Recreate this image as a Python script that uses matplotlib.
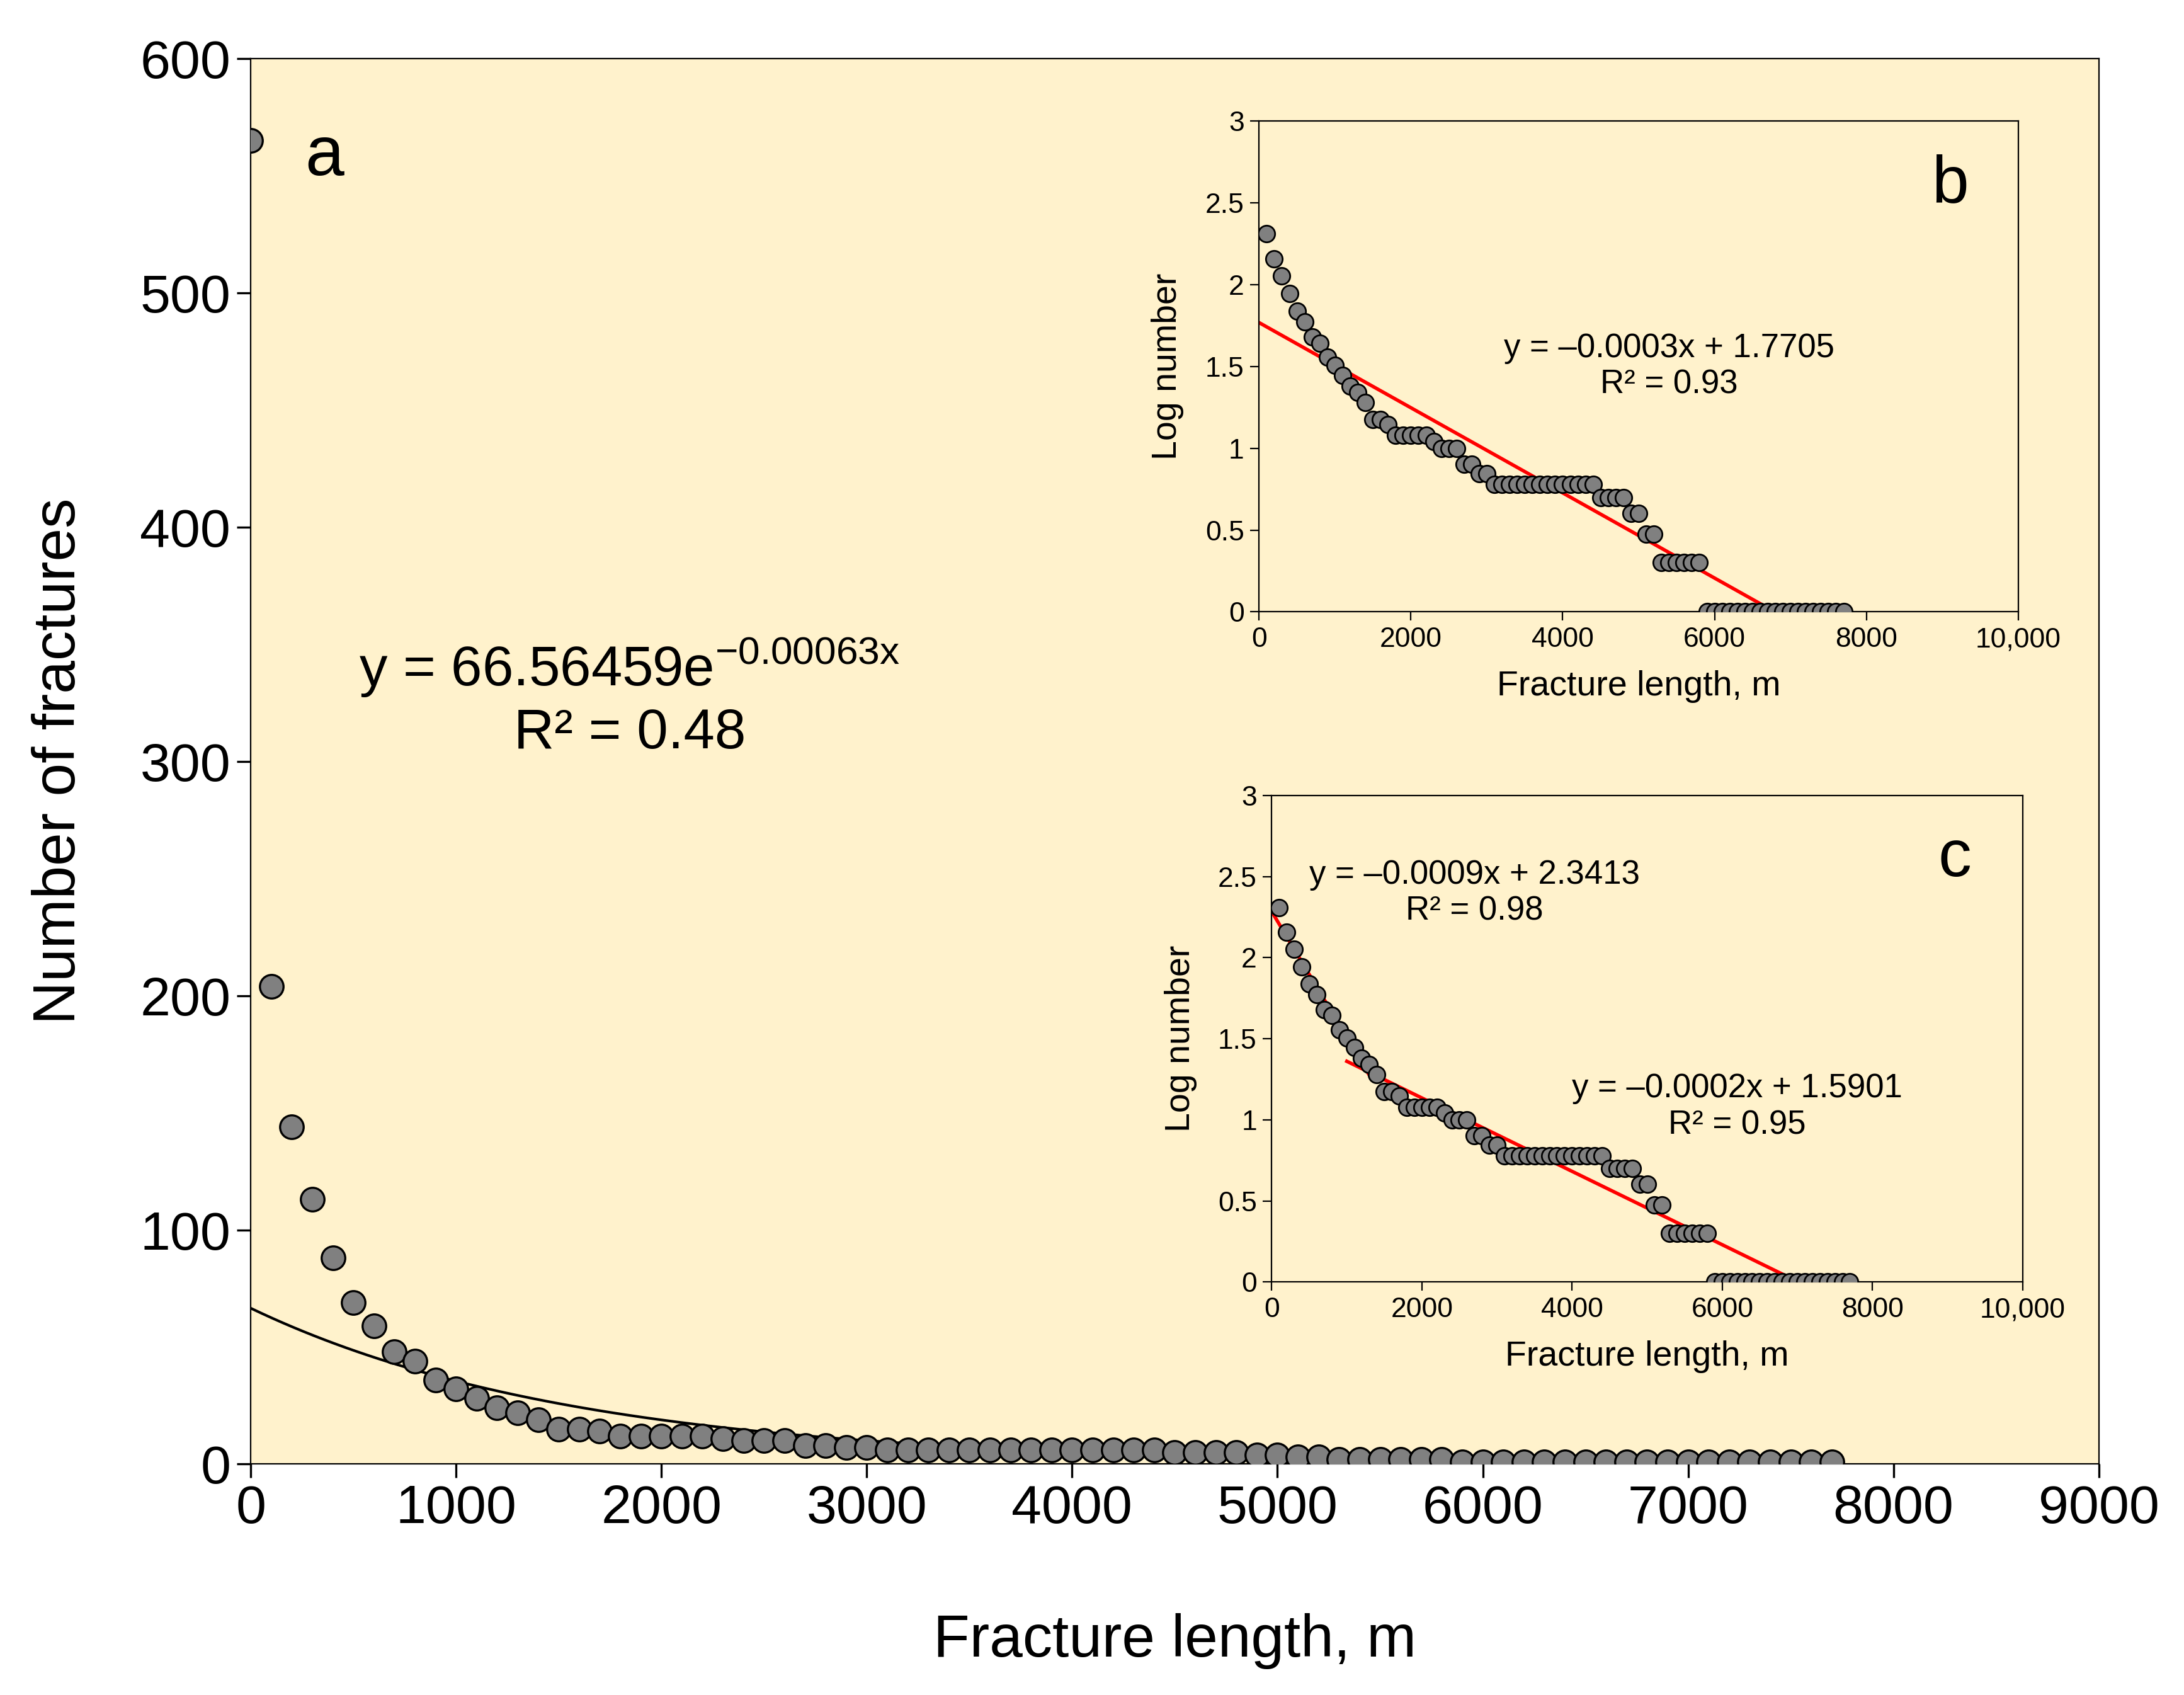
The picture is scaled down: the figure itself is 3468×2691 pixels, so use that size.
import numpy as np
import matplotlib
matplotlib.use("Agg")
import matplotlib.pyplot as plt

plt.rcParams["font.family"] = "Liberation Sans"

# fracture length bins (m) and number of fractures
length = np.arange(0, 7800, 100)
count = np.array([565, 204, 144, 113, 88, 69, 59, 48, 44, 36, 32, 28, 24, 22, 19,
                  15, 15, 14, 12, 12, 12, 12, 12, 11, 10, 10, 10, 8, 8, 7, 7]
                 + [6] * 14 + [5] * 4 + [4, 4, 3, 3] + [2] * 6 + [1] * 19)

exp_a, exp_b = 66.56459, -0.00063
BG = "#FFF2CC"


def style_inset(ax, label):
    ax.set_facecolor(BG)
    ax.set_xlim(0, 10000)
    ax.set_ylim(0, 3)
    ax.set_xticks([0, 2000, 4000, 6000, 8000, 10000])
    ax.set_xticklabels(["0", "2000", "4000", "6000", "8000", "10,000"])
    ax.set_yticks([0, 0.5, 1, 1.5, 2, 2.5, 3])
    ax.set_yticklabels(["0", "0.5", "1", "1.5", "2", "2.5", "3"])
    ax.tick_params(labelsize=16, direction="out", length=5)
    ax.set_xlabel("Fracture length, m", fontsize=20, labelpad=10)
    ax.set_ylabel("Log number", fontsize=20, labelpad=12)
    ax.text(0.91, 0.87, label, transform=ax.transAxes, fontsize=38,
            ha="center", va="center")


def fit_line(ax, x, y, x0):
    k, c = np.polyfit(x, y, 1)
    xe = np.linspace(x0, -c / k, 50)
    ax.plot(xe, k * xe + c, color="red", lw=2, zorder=1)


fig = plt.figure(figsize=(17.34, 13.455), dpi=200)
ax = fig.add_axes([0.1148, 0.1362, 0.8462, 0.8293])
ax.set_facecolor(BG)
ax.scatter(length, count, s=13.5 ** 2, color="#808080", edgecolor="black",
           lw=1.2, zorder=3)
xc = np.linspace(0, 7700, 300)
ax.plot(xc, exp_a * np.exp(exp_b * xc), color="black", lw=1.5, zorder=2)
ax.set_xlim(0, 9000)
ax.set_ylim(0, 600)
ax.set_xticks(range(0, 9001, 1000))
ax.set_yticks(range(0, 601, 100))
ax.tick_params(labelsize=31, direction="out", length=8, width=1.2)
ax.set_xlabel("Fracture length, m", fontsize=34, labelpad=45)
ax.set_ylabel("Number of fractures", fontsize=34, labelpad=30)
ax.text(0.04, 0.93, "a", transform=ax.transAxes, fontsize=40,
        ha="center", va="center")
ax.text(0.205, 0.545, r"y = 66.56459e$^{\mathregular{-0.00063x}}$" + "\nR² = 0.48",
        transform=ax.transAxes, fontsize=32, ha="center", va="center",
        linespacing=1.2)

xl = length[1:]
yl = np.log10(count[1:])

axb = fig.add_axes([0.5765, 0.639, 0.3476, 0.2896])
style_inset(axb, "b")
axb.scatter(xl, yl, s=9.5 ** 2, color="#808080", edgecolor="black", lw=1,
            zorder=3)
fit_line(axb, xl, yl, 0)
axb.text(0.54, 0.5, "y = \u20130.0003x + 1.7705\nR² = 0.93",
         transform=axb.transAxes, fontsize=19, ha="center", va="center")

axc = fig.add_axes([0.5823, 0.2436, 0.3438, 0.2871])
style_inset(axc, "c")
axc.scatter(xl, yl, s=9.5 ** 2, color="#808080", edgecolor="black", lw=1,
            zorder=3)
m1 = xl <= 1300
k1, c1 = np.polyfit(xl[m1], yl[m1], 1)
xe = np.linspace(0, 1300, 20)
axc.plot(xe, k1 * xe + c1, color="red", lw=2, zorder=1)
fit_line(axc, xl[xl >= 1000], yl[xl >= 1000], 1000)
axc.text(0.27, 0.8, "y = \u20130.0009x + 2.3413\nR² = 0.98",
         transform=axc.transAxes, fontsize=19, ha="center", va="center")
axc.text(0.62, 0.36, "y = \u20130.0002x + 1.5901\nR² = 0.95",
         transform=axc.transAxes, fontsize=19, ha="center", va="center")

fig.savefig("out.png", dpi=200, facecolor="white")
